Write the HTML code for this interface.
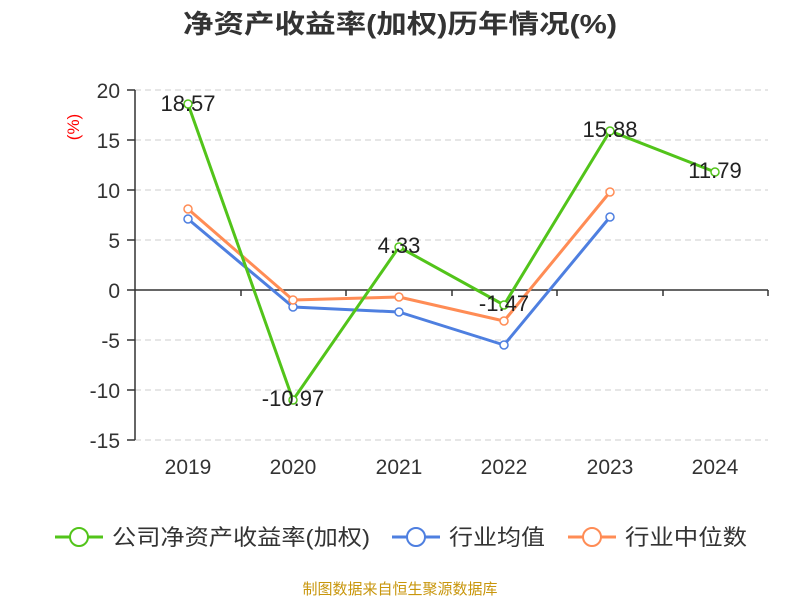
<!DOCTYPE html>
<html><head><meta charset="utf-8"><style>body{margin:0;background:#fff}svg{display:block}</style></head><body>
<svg width="800" height="600" xmlns="http://www.w3.org/2000/svg" font-family="Liberation Sans, Noto Sans CJK SC, sans-serif">
<text x="183" y="33" textLength="434" lengthAdjust="spacingAndGlyphs" font-size="26" font-weight="bold" fill="#333">净资产收益率(加权)历年情况(%)</text>
<g stroke="#ccc" stroke-dasharray="6,4" stroke-width="1">
<line x1="135" x2="768" y1="90" y2="90"/><line x1="135" x2="768" y1="140" y2="140"/><line x1="135" x2="768" y1="190" y2="190"/><line x1="135" x2="768" y1="240" y2="240"/><line x1="135" x2="768" y1="340" y2="340"/><line x1="135" x2="768" y1="390" y2="390"/><line x1="135" x2="768" y1="440" y2="440"/>
</g>
<g stroke="#333" stroke-width="1.5">
<line x1="135" x2="135" y1="90" y2="440"/>
<line x1="127" x2="135" y1="90" y2="90"/><line x1="127" x2="135" y1="140" y2="140"/><line x1="127" x2="135" y1="190" y2="190"/><line x1="127" x2="135" y1="240" y2="240"/><line x1="127" x2="135" y1="290" y2="290"/><line x1="127" x2="135" y1="340" y2="340"/><line x1="127" x2="135" y1="390" y2="390"/><line x1="127" x2="135" y1="440" y2="440"/>
<line x1="135" x2="768" y1="290" y2="290"/>
<line x1="241" x2="241" y1="290" y2="296"/><line x1="346" x2="346" y1="290" y2="296"/><line x1="452" x2="452" y1="290" y2="296"/><line x1="557" x2="557" y1="290" y2="296"/><line x1="663" x2="663" y1="290" y2="296"/><line x1="768" x2="768" y1="290" y2="296"/>
</g>
<g font-size="21" fill="#333" text-anchor="end">
<text x="120" y="98">20</text><text x="120" y="148">15</text><text x="120" y="198">10</text><text x="120" y="248">5</text><text x="120" y="298">0</text><text x="120" y="348">-5</text><text x="120" y="398">-10</text><text x="120" y="448">-15</text>
</g>
<text transform="translate(79,127) rotate(-90)" text-anchor="middle" font-size="17" fill="red">(%)</text>
<g font-size="21" fill="#333" text-anchor="middle">
<text x="188" y="474">2019</text><text x="293" y="474">2020</text><text x="399" y="474">2021</text><text x="504" y="474">2022</text><text x="610" y="474">2023</text><text x="715" y="474">2024</text>
</g>
<polyline fill="none" stroke="#4e7fe0" stroke-width="3" stroke-linejoin="round" points="188,219 293,307 399,312 504,345 610,217"/>
<polyline fill="none" stroke="#ff8c55" stroke-width="3" stroke-linejoin="round" points="188,209 293,300 399,297 504,321 610,192"/>
<polyline fill="none" stroke="#52c41a" stroke-width="3" stroke-linejoin="round" points="188,104 293,400 399,247 504,305 610,131 715,172"/>
<g fill="#fff" stroke-width="1.5">
<g stroke="#4e7fe0"><circle cx="188" cy="219" r="4"/><circle cx="293" cy="307" r="4"/><circle cx="399" cy="312" r="4"/><circle cx="504" cy="345" r="4"/><circle cx="610" cy="217" r="4"/></g>
<g stroke="#ff8c55"><circle cx="188" cy="209" r="4"/><circle cx="293" cy="300" r="4"/><circle cx="399" cy="297" r="4"/><circle cx="504" cy="321" r="4"/><circle cx="610" cy="192" r="4"/></g>
<g stroke="#52c41a"><circle cx="188" cy="104" r="4"/><circle cx="293" cy="400" r="4"/><circle cx="399" cy="247" r="4"/><circle cx="504" cy="305" r="4"/><circle cx="610" cy="131" r="4"/><circle cx="715" cy="172" r="4"/></g>
</g>
<g font-size="22" fill="#222" text-anchor="middle">
<text x="188" y="111">18.57</text><text x="293" y="406">-10.97</text><text x="399" y="253">4.33</text><text x="504" y="311">-1.47</text><text x="610" y="137">15.88</text><text x="715" y="178">11.79</text>
</g>
<g font-size="22" fill="#333">
<line x1="55" x2="103" y1="537" y2="537" stroke="#52c41a" stroke-width="3"/><circle cx="79" cy="537" r="9" fill="#fff" stroke="#52c41a" stroke-width="2"/>
<text x="112" y="545" textLength="258" lengthAdjust="spacingAndGlyphs">公司净资产收益率(加权)</text>
<line x1="392" x2="440" y1="537" y2="537" stroke="#4e7fe0" stroke-width="3"/><circle cx="416" cy="537" r="9" fill="#fff" stroke="#4e7fe0" stroke-width="2"/>
<text x="449" y="545" textLength="96" lengthAdjust="spacingAndGlyphs">行业均值</text>
<line x1="568" x2="616" y1="537" y2="537" stroke="#ff8c55" stroke-width="3"/><circle cx="592" cy="537" r="9" fill="#fff" stroke="#ff8c55" stroke-width="2"/>
<text x="625" y="545" textLength="122" lengthAdjust="spacingAndGlyphs">行业中位数</text>
</g>
<text x="400" y="594" text-anchor="middle" font-size="15" fill="#c8960c">制图数据来自恒生聚源数据库</text>
</svg>
</body></html>
